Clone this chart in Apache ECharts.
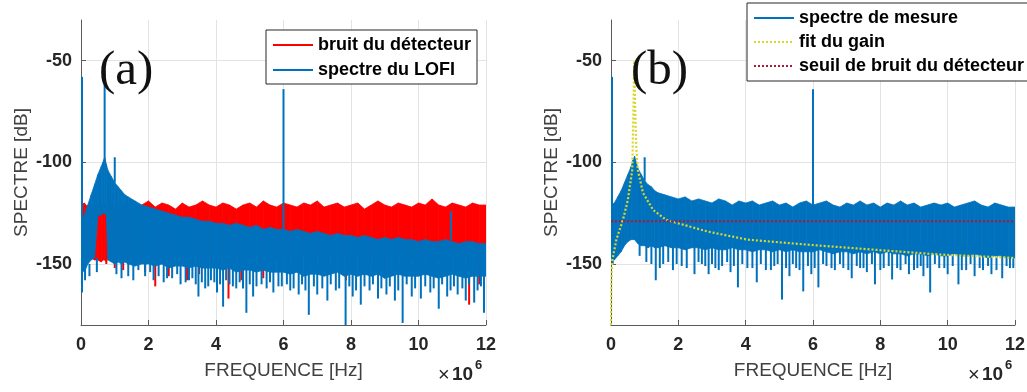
<!DOCTYPE html>
<html>
<head>
<meta charset="utf-8">
<script src="https://cdn.jsdelivr.net/npm/echarts@6/dist/echarts.min.js"></script>
<style>
  html, body { margin: 0; padding: 0; background: #fff; }
  #chart { width: 1027px; height: 392px; }
</style>
</head>
<body>
<div id="chart"></div>
<script>
// frequency (x 1e6 Hz) of the band readings; the band is held flat to 12 after the last one
const freqSteps = [
  0, 0.1, 0.2, 0.3, 0.4, 0.5, 0.6, 0.65, 0.7, 0.75, 0.8, 0.9, 1.0, 1.1, 1.2, 1.3, 1.4, 1.6, 1.8,
  2.0, 2.2, 2.4, 2.6, 2.8, 3.0, 3.2, 3.4, 3.6, 3.8,
  4.0, 4.2, 4.4, 4.6, 4.8, 5.0, 5.2, 5.4, 5.6, 5.8,
  6.0, 6.2, 6.4, 6.6, 6.8, 7.0, 7.2, 7.4, 7.6, 7.8,
  8.0, 8.2, 8.4, 8.6, 8.8, 9.0, 9.2, 9.4, 9.6, 9.8,
  10.0, 10.2, 10.4, 10.6, 10.8, 11.0, 11.2, 11.4, 11.6, 11.8
];
const freqEnd = 12;
const yTicks = [-150, -100, -50];

// (a) detector noise, top / bottom of the dense band (dB)
const noiseHiA = [
  -121, -120, -122, -121, -120, -122, -121, -121, -120, -122, -121, -120, -122, -121, -123, -121, -120, -122, -121,
  -119, -122, -120, -121, -123, -120, -122, -121, -119, -121,
  -122, -120, -121, -123, -121, -120, -122, -119, -121, -122,
  -120, -121, -122, -120, -121, -119, -122, -121, -120, -122,
  -121, -120, -123, -121, -119, -121, -122, -120, -121, -122,
  -120, -121, -118, -121, -122, -120, -121, -122, -120, -121
];
const noiseLoA = [
  -148, -149, -148, -147, -148, -148, -149, -148, -148, -149, -147, -148, -149, -147, -148, -147, -148, -147, -148,
  -146, -147, -146, -147, -146, -147, -146, -146, -147, -146,
  -147, -146, -147, -146, -146, -147, -146, -147, -146, -147,
  -146, -147, -146, -146, -147, -146, -147, -146, -146, -147,
  -147, -146, -147, -146, -147, -146, -146, -147, -146, -147,
  -146, -147, -146, -147, -146, -146, -147, -146, -147, -146
];
// (a) LOFI spectrum band
const lofiHiA = [
  -128, -126, -121, -116, -111, -106, -102, -100, -97.5, -101, -104, -107, -110, -112, -114, -116, -117, -119, -121,
  -122, -123, -124, -125, -126, -127, -127, -128, -129, -129,
  -130, -130, -131, -130, -131, -132, -131, -133, -132, -133,
  -133, -134, -133, -134, -135, -134, -135, -136, -135, -136,
  -136, -137, -136, -137, -138, -137, -138, -137, -138, -138,
  -139, -138, -139, -139, -138, -139, -140, -139, -139, -140
];
const lofiLoA = [
  -152, -154, -150, -148, -147, -126, -126, -125, -125, -126, -148, -149, -150, -149, -150, -149, -150, -151, -150,
  -150, -151, -150, -152, -151, -151, -152, -151, -152, -152,
  -152, -153, -152, -154, -153, -153, -154, -153, -154, -154,
  -154, -155, -154, -156, -155, -155, -156, -155, -154, -156,
  -155, -156, -155, -156, -155, -157, -156, -155, -156, -156,
  -156, -155, -156, -157, -156, -155, -156, -157, -156, -156
];
// [freq, from dB, to dB]
const noiseSpikesA = [
  [0.75, -140, -150], [1.0, -140, -152], [1.25, -140, -153], [1.9, -140, -154], [2.2, -140, -161],
  [2.6, -140, -156], [3.14, -140, -158], [3.5, -140, -155], [4.37, -140, -167], [4.75, -140, -158],
  [5.4, -140, -157], [7.85, -140, -158], [9.0, -140, -157], [11.5, -140, -170], [11.8, -140, -160]
];
const lofiSpikesA = [
  [0.03, -164, -58], [0.7, -100, -55], [1.0, -110, -97.5], [6.0, -134, -64], [10.96, -138, -124],
  [0.12, -150, -158], [0.25, -150, -156], [0.47, -147, -154], [1.05, -148, -155], [1.4, -148, -156],
  [1.7, -148, -153], [2.05, -150, -154], [2.3, -150, -156], [2.55, -150, -157], [2.85, -150, -155],
  [3.1, -150, -159], [3.3, -150, -157], [3.48, -150, -166], [3.68, -150, -162], [3.85, -150, -158],
  [4.03, -150, -164], [4.21, -150, -171], [4.4, -150, -160], [4.6, -150, -162], [4.9, -150, -174],
  [5.1, -150, -166], [5.35, -150, -160], [5.7, -150, -164], [5.95, -150, -161], [6.2, -150, -163],
  [6.45, -150, -165], [6.75, -150, -175], [7.0, -150, -165], [7.3, -150, -168], [7.55, -150, -163],
  [7.84, -150, -180], [8.05, -150, -166], [8.29, -150, -170], [8.55, -150, -163], [8.8, -150, -167],
  [9.05, -150, -165], [9.3, -150, -168], [9.53, -150, -179], [9.8, -150, -166], [10.07, -150, -167],
  [10.35, -150, -164], [10.6, -150, -172], [10.85, -150, -166], [11.16, -150, -165], [11.4, -150, -168],
  [11.65, -150, -169], [11.94, -150, -174],
  [1.2, -150, -157], [1.55, -150, -158], [1.9, -150, -156], [2.15, -150, -158], [2.45, -150, -159],
  [2.7, -150, -157], [2.95, -150, -160], [3.2, -150, -158], [3.4, -150, -160], [3.58, -150, -159],
  [3.77, -150, -161], [3.95, -150, -159], [4.12, -150, -160], [4.3, -150, -158], [4.5, -150, -161],
  [4.7, -150, -159], [4.8, -150, -162], [5.0, -150, -160], [5.2, -150, -161], [5.5, -150, -162],
  [5.6, -150, -159], [5.85, -150, -161], [6.1, -150, -160], [6.3, -150, -162], [6.55, -150, -160],
  [6.65, -150, -163], [6.9, -150, -161], [7.15, -150, -162], [7.4, -150, -160], [7.65, -150, -162],
  [7.95, -150, -161], [8.15, -150, -163], [8.4, -150, -161], [8.65, -150, -160], [8.9, -150, -162],
  [9.15, -150, -161], [9.4, -150, -163], [9.65, -150, -160], [9.9, -150, -162], [10.2, -150, -161],
  [10.45, -150, -162], [10.7, -150, -160], [10.95, -150, -163], [11.05, -150, -161], [11.3, -150, -162],
  [11.5, -150, -160], [11.75, -150, -163], [11.85, -150, -161]
];

// (b) measured spectrum band
const measHiB = [
  -121, -120, -117, -114, -110, -106, -102, -99, -97, -100, -103, -106, -109, -111, -112, -114, -115, -116, -117,
  -118, -117, -119, -118, -119, -120, -118, -119, -121, -119,
  -120, -119, -121, -120, -119, -121, -120, -122, -120, -119,
  -121, -120, -119, -121, -122, -120, -121, -119, -121, -120,
  -122, -120, -121, -119, -121, -120, -122, -121, -120, -121,
  -120, -122, -121, -120, -119, -121, -122, -120, -121, -122
];
const measLoB = [
  -147, -148, -146, -144, -141, -139, -138, -138, -138, -139, -140, -141, -141, -142, -141, -142, -142, -141, -142,
  -142, -143, -142, -142, -143, -142, -143, -143, -142, -143,
  -143, -144, -143, -143, -144, -143, -144, -143, -144, -144,
  -144, -143, -144, -145, -144, -144, -145, -144, -145, -144,
  -145, -144, -145, -145, -146, -145, -145, -146, -145, -146,
  -146, -145, -146, -146, -145, -146, -147, -146, -146, -147
];
const measSpikesB = [
  [0.03, -148, -58], [1.0, -109, -97.5], [6.0, -121, -64],
  [0.05, -145, -150], [0.85, -140, -146], [1.05, -140, -149], [1.33, -140, -158], [1.55, -140, -150],
  [1.84, -140, -153], [2.1, -140, -151], [2.48, -140, -155], [2.7, -140, -150], [2.9, -140, -155],
  [3.1, -140, -152], [3.3, -140, -151], [3.55, -140, -154], [3.77, -140, -161.5], [4.05, -140, -152],
  [4.33, -140, -159], [4.6, -140, -153], [4.85, -140, -151], [5.08, -140, -167.5], [5.3, -140, -156],
  [5.5, -140, -152], [5.71, -140, -163.5], [5.95, -140, -155], [6.16, -140, -161.5], [6.4, -140, -151],
  [6.65, -140, -153], [6.9, -140, -152], [7.15, -140, -157], [7.4, -140, -152], [7.6, -140, -154],
  [7.84, -140, -160], [8.1, -140, -152], [8.35, -140, -157.6], [8.6, -140, -153], [8.85, -140, -155],
  [9.1, -140, -152], [9.28, -140, -156], [9.48, -140, -164], [9.75, -140, -152], [10.0, -140, -155],
  [10.32, -140, -160], [10.55, -140, -153], [10.8, -140, -156], [11.05, -140, -153], [11.3, -140, -155],
  [11.62, -140, -157], [11.85, -140, -152],
  [1.2, -140, -150], [1.45, -140, -152], [1.7, -140, -149], [1.95, -140, -150], [2.25, -140, -152],
  [2.6, -140, -149], [2.8, -140, -151], [3.0, -140, -150], [3.2, -140, -153], [3.45, -140, -149],
  [3.65, -140, -151], [3.9, -140, -150], [4.2, -140, -152], [4.45, -140, -150], [4.75, -140, -153],
  [4.95, -140, -150], [5.2, -140, -152], [5.4, -140, -150], [5.6, -140, -153], [5.85, -140, -151],
  [6.05, -140, -152], [6.3, -140, -150], [6.55, -140, -152], [6.8, -140, -150], [7.05, -140, -153],
  [7.3, -140, -151], [7.5, -140, -152], [7.75, -140, -150], [8.0, -140, -153], [8.25, -140, -151],
  [8.5, -140, -152], [8.75, -140, -150], [9.0, -140, -153], [9.2, -140, -151], [9.4, -140, -152],
  [9.62, -140, -150], [9.9, -140, -152], [10.15, -140, -151], [10.42, -140, -153], [10.68, -140, -150],
  [10.95, -140, -152], [11.2, -140, -151], [11.45, -140, -153], [11.75, -140, -151], [11.95, -140, -152]
];
// gain fit
const fitFreq = [0, 0.01, 0.04, 0.16, 0.36, 0.5, 0.63, 0.66, 0.69, 0.72, 0.75, 0.8, 0.95, 1.25, 1.64, 2.0, 2.86, 4.05, 5.84, 7.84, 9.82, 12];
const fitDb = [-180, -160, -148, -138, -128, -118.5, -104, -80, -50, -75, -92, -104, -115, -123.4, -128.3, -130, -134, -138, -140.5, -143, -145.4, -147];
// detector noise threshold
const seuilFreq = [0, 12];
const seuilDb = [-129, -129];

const BLUE = '#0072bd';
const RED = '#ff0000';
const YELLOW = '#d8d82c';
const DARKRED = '#a8193a';
const AXIS = '#5a5a5a';
const GRIDC = '#e3e3e3';
const FONT = 'Liberation Sans, Arial, sans-serif';

// one quad per reading: [f0, f1, lo0, hi0, lo1, hi1]
function bandData(hi, lo) {
  return freqSteps.map((f, i) => {
    const last = i + 1 >= freqSteps.length;
    const f1 = last ? freqEnd : freqSteps[i + 1];
    const j = last ? i : i + 1;
    return [f, f1, lo[i], hi[i], lo[j], hi[j]];
  });
}

function bandSeries(idx, hi, lo, color) {
  return {
    type: 'custom', xAxisIndex: idx, yAxisIndex: idx, clip: true, silent: true,
    encode: { x: [0, 1], y: [2, 3, 4, 5] },
    data: bandData(hi, lo),
    renderItem: function (params, api) {
      const p = [
        api.coord([api.value(0), api.value(2)]),
        api.coord([api.value(1), api.value(4)]),
        api.coord([api.value(1), api.value(5)]),
        api.coord([api.value(0), api.value(3)])
      ];
      return { type: 'polygon', shape: { points: p }, style: { fill: color, stroke: color, lineWidth: 0.8 } };
    }
  };
}

function spikeSeries(idx, spikes, color) {
  return {
    type: 'custom', xAxisIndex: idx, yAxisIndex: idx, clip: true, silent: true,
    encode: { x: 0, y: [1, 2] },
    data: spikes,
    renderItem: function (params, api) {
      const a = api.coord([api.value(0), api.value(1)]);
      const b = api.coord([api.value(0), api.value(2)]);
      return { type: 'line', shape: { x1: a[0], y1: a[1], x2: b[0], y2: b[1] }, style: { stroke: color, lineWidth: 2 } };
    }
  };
}

function legendOnly(idx, name, color) {
  return {
    type: 'line', name: name, xAxisIndex: idx, yAxisIndex: idx, data: [], symbol: 'none',
    itemStyle: { color: color }, lineStyle: { color: color, width: 3 }
  };
}

function xAxisFor(idx) {
  return {
    gridIndex: idx, type: 'value', min: 0, max: 12, interval: 2,
    axisLine: { lineStyle: { color: AXIS, width: 1 } },
    axisTick: { inside: true, length: 5, lineStyle: { color: AXIS } },
    axisLabel: { color: '#262626', fontSize: 18, fontWeight: 'bold', fontFamily: FONT, margin: 11 },
    splitLine: { show: true, lineStyle: { color: GRIDC } },
    name: 'FREQUENCE [Hz]', nameLocation: 'middle', nameGap: 36,
    nameTextStyle: { color: '#404040', fontSize: 19, fontFamily: FONT }
  };
}

function yAxisFor(idx) {
  return {
    gridIndex: idx, type: 'value', min: -180, max: -30,
    axisLine: { show: true, lineStyle: { color: AXIS, width: 1 } },
    axisTick: { show: true, inside: true, length: 5, customValues: yTicks, lineStyle: { color: AXIS } },
    axisLabel: { customValues: yTicks, color: '#262626', fontSize: 18, fontWeight: 'bold', fontFamily: FONT, margin: 9 },
    splitLine: { show: true, lineStyle: { color: GRIDC } },
    name: 'SPECTRE [dB]', nameLocation: 'middle', nameGap: 50,
    nameTextStyle: { color: '#404040', fontSize: 19, fontFamily: FONT }
  };
}

const legendBase = {
  orient: 'vertical', itemWidth: 40, itemHeight: 14, itemGap: 7,
  borderColor: '#262626', borderWidth: 1, borderRadius: 0, backgroundColor: '#fff',
  itemStyle: { opacity: 0 },
  textStyle: { color: '#000', fontSize: 18, fontWeight: 'bold', fontFamily: FONT },
  selectedMode: false
};

const chart = echarts.init(document.getElementById('chart'), null, { renderer: 'canvas' });
chart.setOption({
  animation: false,
  backgroundColor: '#fff',
  grid: [
    { left: 81, right: 541, top: 20, bottom: 67, outerBoundsMode: 'none' },
    { left: 611, right: 12, top: 20, bottom: 67, outerBoundsMode: 'none' }
  ],
  xAxis: [xAxisFor(0), xAxisFor(1)],
  yAxis: [yAxisFor(0), yAxisFor(1)],
  legend: [
    Object.assign({}, legendBase, { left: 266, top: 30, padding: [6, 6, 5, 6], data: ['bruit du détecteur', 'spectre du LOFI'] }),
    Object.assign({}, legendBase, { left: 747, top: 3, padding: [6, 6, 6, 6], itemGap: 6, data: ['spectre de mesure', 'fit du gain', 'seuil de bruit du détecteur'] })
  ],
  graphic: [
    { type: 'text', left: 99, top: 47, z: 100, style: { text: '(a)', font: '49px "Liberation Serif", serif', fill: '#111' } },
    { type: 'text', left: 631, top: 47, z: 100, style: { text: '(b)', font: '49px "Liberation Serif", serif', fill: '#111' } },
    { type: 'text', left: 438, top: 365, style: { text: '×', font: '20px ' + FONT, fill: '#262626' } },
    { type: 'text', left: 452, top: 365, style: { text: '10', font: 'bold 19px ' + FONT, fill: '#262626' } },
    { type: 'text', left: 475, top: 359, style: { text: '6', font: 'bold 13px ' + FONT, fill: '#262626' } },
    { type: 'text', left: 968, top: 365, style: { text: '×', font: '20px ' + FONT, fill: '#262626' } },
    { type: 'text', left: 982, top: 365, style: { text: '10', font: 'bold 19px ' + FONT, fill: '#262626' } },
    { type: 'text', left: 1005, top: 359, style: { text: '6', font: 'bold 13px ' + FONT, fill: '#262626' } }
  ],
  series: [
    legendOnly(0, 'bruit du détecteur', RED),
    legendOnly(0, 'spectre du LOFI', BLUE),
    bandSeries(0, noiseHiA, noiseLoA, RED),
    spikeSeries(0, noiseSpikesA, RED),
    bandSeries(0, lofiHiA, lofiLoA, BLUE),
    spikeSeries(0, lofiSpikesA, BLUE),

    legendOnly(1, 'spectre de mesure', BLUE),
    bandSeries(1, measHiB, measLoB, BLUE),
    spikeSeries(1, measSpikesB, BLUE),
    {
      type: 'line', name: 'fit du gain', xAxisIndex: 1, yAxisIndex: 1, symbol: 'none',
      data: fitFreq.map((f, i) => [f, fitDb[i]]),
      itemStyle: { color: YELLOW },
      lineStyle: { color: YELLOW, width: 2.2, type: [2, 2] }
    },
    {
      type: 'line', name: 'seuil de bruit du détecteur', xAxisIndex: 1, yAxisIndex: 1, symbol: 'none',
      data: seuilFreq.map((f, i) => [f, seuilDb[i]]),
      itemStyle: { color: DARKRED },
      lineStyle: { color: DARKRED, width: 2.2, type: [2, 2] }
    }
  ]
});
</script>
</body>
</html>
